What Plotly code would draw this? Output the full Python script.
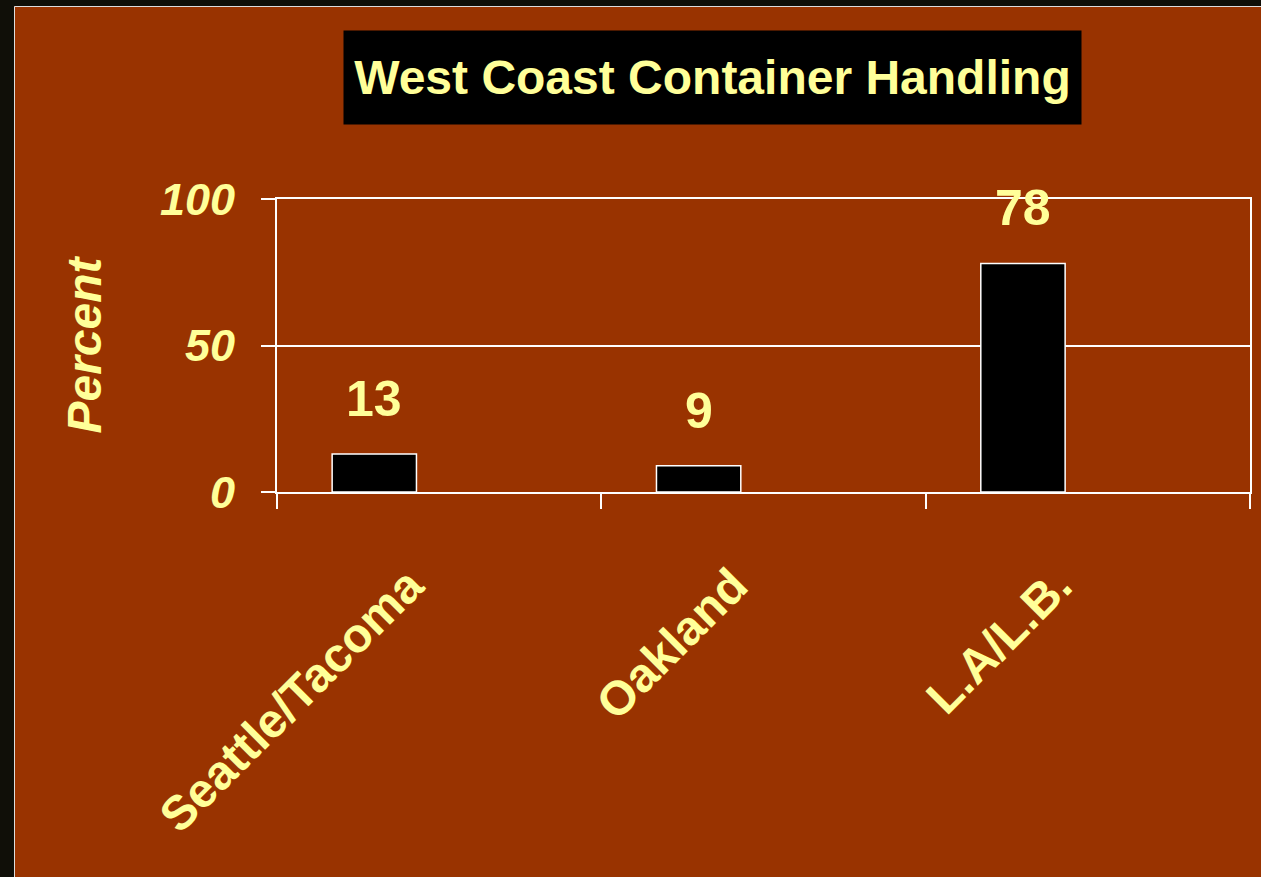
import plotly.graph_objects as go

categories = ["Seattle/Tacoma", "Oakland", "L.A/L.B."]
values = [13, 9, 78]
value_labels = ["13", "9", "78"]
y_ticks = [0, 50, 100]
y_tick_labels = ["0", "50", "100"]

W, H = 1261, 877
L, R, T, B = 277, 11, 199, 385
PW, PH = W - L - R, H - T - B

def px(x):
    return (x - L) / PW

def py(y):
    return (H - B - y) / PH

YEL = "#FFFF99"
BG = "#993300"
DARK = "#100F08"
FONT = "Liberation Sans, Arial, sans-serif"

BAR_W = 0.26
BAR_OFF = -0.33

fig = go.Figure()
fig.add_trace(go.Bar(
    x=categories, y=values, width=BAR_W, offset=BAR_OFF,
    marker=dict(color="black", line=dict(color="white", width=1.5)),
    hoverinfo="skip",
))

for i, (v, t) in enumerate(zip(values, value_labels)):
    fig.add_annotation(x=i + BAR_OFF + BAR_W / 2, y=v, xref="x", yref="y", text=f"<b>{t}</b>",
                       showarrow=False, yanchor="bottom", yshift=25,
                       font=dict(family=FONT, size=50, color=YEL))

# title box
fig.add_annotation(x=px(712), y=py(77.5), xref="paper", yref="paper",
                   xanchor="center", yanchor="middle",
                   text="<b>West Coast Container Handling</b>", showarrow=False,
                   width=737, height=93, borderpad=0, bgcolor="black",
                   font=dict(family=FONT, size=48, color=YEL))

shapes = [
    dict(type="rect", xref="paper", yref="paper", x0=px(0), x1=px(14), y0=py(H), y1=py(0),
         fillcolor=DARK, line=dict(width=0), layer="below"),
    dict(type="rect", xref="paper", yref="paper", x0=px(0), x1=px(W), y0=py(6), y1=py(0),
         fillcolor=DARK, line=dict(width=0), layer="below"),
    dict(type="line", xref="paper", yref="paper", x0=px(14.5), x1=px(14.5), y0=py(H), y1=py(6.5),
         line=dict(color="#DDDDDD", width=1), layer="below"),
    dict(type="line", xref="paper", yref="paper", x0=px(14.5), x1=px(W), y0=py(6.5), y1=py(6.5),
         line=dict(color="#DDDDDD", width=1), layer="below"),
]

fig.update_layout(
    width=W, height=H,
    margin=dict(l=L, r=R, t=T, b=B, autoexpand=False),
    paper_bgcolor=BG, plot_bgcolor=BG,
    showlegend=False,
    shapes=shapes,
    font=dict(family=FONT, color=YEL),
    xaxis=dict(
        type="category", tickson="boundaries",
        range=[-0.5, 2.5],
        ticks="outside", ticklen=15, tickwidth=2, tickcolor="white",
        showline=True, linecolor="white", linewidth=2, mirror=True,
        showgrid=False,
        tickangle=-45,
        tickfont=dict(family=FONT, size=48, color=YEL),
        tickprefix="<b>", ticksuffix="</b>",
        ticklabelstandoff=44, ticklabelshift=-30,
        fixedrange=True,
    ),
    yaxis=dict(
        range=[0, 100], tickvals=y_ticks,
        ticktext=[f"<b><i>{t}</i></b>" for t in y_tick_labels],
        ticks="outside", ticklen=14, tickwidth=2, tickcolor="white",
        showline=True, linecolor="white", linewidth=2, mirror=True,
        showgrid=True, gridcolor="white", gridwidth=2,
        zeroline=False,
        tickfont=dict(family=FONT, size=45, color=YEL),
        ticklabelstandoff=17,
        title=dict(text="<b><i>Percent</i></b>", standoff=43,
                   font=dict(family=FONT, size=48, color=YEL)),
        fixedrange=True,
    ),
)

fig.write_html(
    "out.html",
    config={"displayModeBar": False, "staticPlot": True},
    post_script="document.body.style.margin='0';document.body.style.overflow='hidden';",
)
